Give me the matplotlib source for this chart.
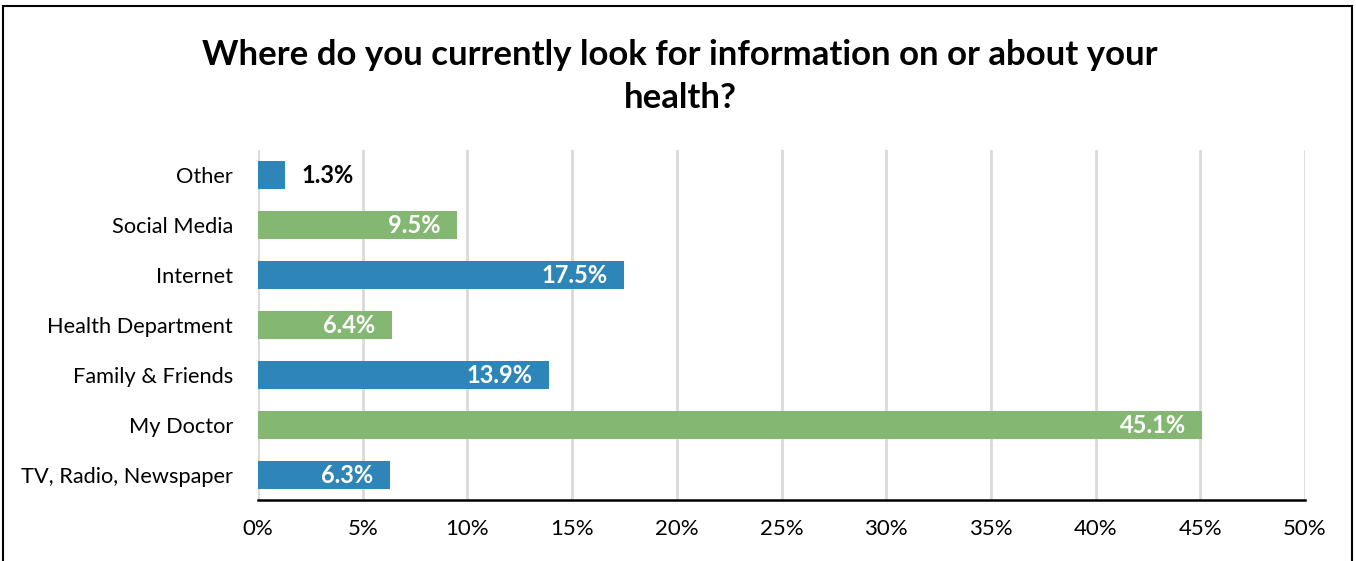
import matplotlib.pyplot as plt
from matplotlib.patches import Rectangle

plt.rcParams['font.family'] = ['Lato', 'DejaVu Sans']

categories = ['TV, Radio, Newspaper', 'My Doctor', 'Family & Friends',
              'Health Department', 'Internet', 'Social Media', 'Other']
values = [6.3, 45.1, 13.9, 6.4, 17.5, 9.5, 1.3]
colors = ['#2E86B8', '#84B872', '#2E86B8', '#84B872', '#2E86B8', '#84B872', '#2E86B8']
ticks = [0, 5, 10, 15, 20, 25, 30, 35, 40, 45, 50]

fig = plt.figure(figsize=(13.56, 5.61), dpi=100)
ax = fig.add_axes([0.1903, 0.1087, 0.9624 - 0.1903, 0.7326 - 0.1087])

y = range(len(categories))
ax.barh(y, values, height=0.56, color=colors, zorder=3)

for i, v in enumerate(values):
    if v < 3:
        ax.annotate(f'{v:.1f}%', (v, i), xytext=(12, 0), textcoords='offset points',
                    ha='left', va='center', fontsize=17, fontweight='bold', color='black')
    else:
        ax.annotate(f'{v:.1f}%', (v, i), xytext=(-12, 0), textcoords='offset points',
                    ha='right', va='center', fontsize=17, fontweight='bold', color='white', zorder=4)

ax.set_xlim(0, 50)
ax.set_ylim(-0.5, 6.5)
ax.set_xticks(ticks)
ax.set_xticklabels([f'{t}%' for t in ticks], fontsize=16)
ax.set_yticks(list(y))
ax.set_yticklabels(categories, fontsize=15.7)
ax.tick_params(axis='both', length=0)
ax.tick_params(axis='x', pad=14)
ax.tick_params(axis='y', pad=18)

ax.grid(axis='x', color='#D9D9D9', linewidth=2, zorder=0)
for s in ['top', 'right', 'left']:
    ax.spines[s].set_visible(False)
ax.spines['bottom'].set_linewidth(1.8)
ax.spines['bottom'].set_color('black')
ax.spines['bottom'].set_zorder(5)

fig.text(0.5015, 0.863, 'Where do you currently look for information on or about your\nhealth?',
         ha='center', va='center', fontsize=25, fontweight='bold', linespacing=1.42)

fig.patches.append(Rectangle((3 / 1356, -0.1), 1349 / 1356, 1 - 6 / 561 + 0.1,
                             transform=fig.transFigure, fill=False,
                             edgecolor='black', linewidth=1.5))

fig.savefig('out.png', dpi=100)
